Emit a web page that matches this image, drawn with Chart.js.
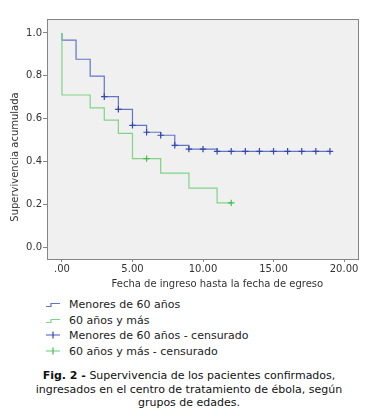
<!DOCTYPE html>
<html><head><meta charset="utf-8">
<script src="https://cdn.jsdelivr.net/npm/chart.js@4.4.1/dist/chart.umd.min.js"></script>
<style>
html,body{margin:0;padding:0;background:#fff;width:378px;height:416px;overflow:hidden;font-family:"DejaVu Sans",Verdana,sans-serif;}
#wrap{position:absolute;left:0;top:0;width:378px;height:292px;}
#legend{position:absolute;left:46px;top:297px;font-size:11px;color:#222;}
.row{height:15.6px;line-height:15.6px;white-space:nowrap;}
.row svg{vertical-align:middle;margin-right:9px;position:relative;top:-1px;}
#caption{position:absolute;left:0;top:369px;width:378px;text-align:center;font-size:11px;line-height:13.7px;color:#111;}
</style></head><body>
<div id="wrap"><canvas id="c" width="378" height="292"></canvas></div>
<div id="legend"></div>
<div id="caption"><b>Fig. 2 -</b> Supervivencia de los pacientes confirmados,<br>ingresados en el centro de tratamiento de ébola, según<br>grupos de edades.</div>
<script>
// Data
const youngTimes = [0, 0, 1, 2, 3, 4, 5, 6, 7, 8, 9, 11, 19];
const youngSurv  = [1.0, 0.966, 0.877, 0.798, 0.702, 0.643, 0.568, 0.536, 0.522, 0.475, 0.457, 0.447, 0.447];
const youngCensTimes = [3, 4, 5, 6, 7, 8, 9, 10, 11, 12, 13, 14, 15, 16, 17, 18, 19];
const youngCensSurv  = [0.702, 0.643, 0.568, 0.536, 0.522, 0.475, 0.457, 0.457, 0.447, 0.447, 0.447, 0.447, 0.447, 0.447, 0.447, 0.447, 0.447];
const oldTimes = [0, 0, 2, 3, 4, 5, 7, 9, 11, 12];
const oldSurv  = [1.0, 0.71, 0.65, 0.593, 0.531, 0.413, 0.345, 0.275, 0.206, 0.206];
const oldCensTimes = [6, 12];
const oldCensSurv  = [0.413, 0.206];
const xTicks = [0, 5, 10, 15, 20];
const yTicks = [0, 0.2, 0.4, 0.6, 0.8, 1.0];
const legendLabels = ["Menores de 60 años", "60 años y más", "Menores de 60 años - censurado", "60 años y más - censurado"];
const xTitle = "Fecha de ingreso hasta la fecha de egreso";
const yTitle = "Supervivencia acumulada";

const blueLine = '#6275c4', greenLine = '#7ed488', blueMark = '#3347ad', greenMark = '#3fbf50';
const pts = (xs, ys) => xs.map((x, i) => ({x, y: ys[i]}));

const bgPlugin = {
  id: 'bg',
  beforeDraw(chart) {
    const {ctx, chartArea: a} = chart;
    ctx.save();
    ctx.fillStyle = '#f0f0f0';
    ctx.fillRect(a.left, a.top, a.right - a.left, a.bottom - a.top);
    ctx.restore();
  },
  afterDraw(chart) {
    const {ctx, chartArea: a} = chart;
    ctx.save();
    ctx.strokeStyle = '#858585';
    ctx.lineWidth = 1;
    ctx.strokeRect(a.left + 0.5, a.top + 0.5, a.right - a.left - 1, a.bottom - a.top);
    ctx.fillStyle = '#333';
    ctx.font = '10px "DejaVu Sans", Verdana, sans-serif';
    ctx.textAlign = 'center';
    ctx.textBaseline = 'middle';
    ctx.fillText(xTitle, a.left + (a.right - a.left) * 0.546, a.bottom + 25);
    ctx.translate(15, a.top + (a.bottom - a.top) * 0.575);
    ctx.rotate(-Math.PI / 2);
    ctx.fillText(yTitle, 0, 0);
    ctx.restore();
  }
};

new Chart(document.getElementById('c'), {
  type: 'scatter',
  data: {
    datasets: [
      {label: legendLabels[1], data: pts(oldTimes, oldSurv), showLine: true, stepped: 'before', borderColor: greenLine, borderWidth: 1.2, pointRadius: 0, order: 2},
      {label: legendLabels[0], data: pts(youngTimes, youngSurv), showLine: true, stepped: 'before', borderColor: blueLine, borderWidth: 1.2, pointRadius: 0, order: 3},
      {label: legendLabels[2], data: pts(youngCensTimes, youngCensSurv), showLine: false, pointStyle: 'cross', pointRadius: 3.2, borderColor: blueMark, borderWidth: 1.2, order: 1},
      {label: legendLabels[3], data: pts(oldCensTimes, oldCensSurv), showLine: false, pointStyle: 'cross', pointRadius: 3.2, borderColor: greenMark, borderWidth: 1.2, order: 0}
    ]
  },
  options: {
    responsive: false,
    animation: false,
    layout: {padding: {top: 19, right: 19, left: 0, bottom: 0}},
    plugins: {legend: {display: false}, tooltip: {enabled: false}},
    scales: {
      x: {
        type: 'linear', min: -1.06, max: 21.06,
        afterBuildTicks(s) { s.ticks = xTicks.map(v => ({value: v})); },
        afterFit(s) { s.height = 33; },
        ticks: {color: '#333', font: {size: 10, family: '"DejaVu Sans", Verdana, sans-serif'}, padding: 1, maxRotation: 0,
          callback: v => v === 0 ? '.00' : v.toFixed(2)},
        grid: {drawOnChartArea: false, drawTicks: true, tickLength: 3, color: '#858585'},
        border: {display: false}
      },
      y: {
        type: 'linear', min: -0.056, max: 1.065,
        afterBuildTicks(s) { s.ticks = yTicks.map(v => ({value: v})); },
        afterFit(s) { s.width = 47; },
        ticks: {color: '#333', font: {size: 10, family: '"DejaVu Sans", Verdana, sans-serif'}, padding: 1,
          callback: v => v.toFixed(1)},
        grid: {drawOnChartArea: false, drawTicks: true, tickLength: 4, color: '#858585'},
        border: {display: false}
      }
    }
  },
  plugins: [bgPlugin]
});

// HTML legend
const icons = [
  `<svg width="14" height="8"><polyline points="0,6.5 5,6.5 5,3.5 14,3.5" fill="none" stroke="${blueLine}" stroke-width="1.2"/></svg>`,
  `<svg width="14" height="8"><polyline points="0,6.5 5,6.5 5,3.5 14,3.5" fill="none" stroke="${greenLine}" stroke-width="1.2"/></svg>`,
  `<svg width="14" height="8"><line x1="0" y1="4" x2="14" y2="4" stroke="${blueLine}" stroke-width="1.2"/><line x1="7" y1="0.5" x2="7" y2="7.5" stroke="${blueMark}" stroke-width="1.2"/></svg>`,
  `<svg width="14" height="8"><line x1="0" y1="4" x2="14" y2="4" stroke="${greenLine}" stroke-width="1.2"/><line x1="7" y1="0.5" x2="7" y2="7.5" stroke="${greenMark}" stroke-width="1.2"/></svg>`
];
document.getElementById('legend').innerHTML = legendLabels.map((t, i) => `<div class="row">${icons[i]}${t}</div>`).join('');
</script>
</body></html>
